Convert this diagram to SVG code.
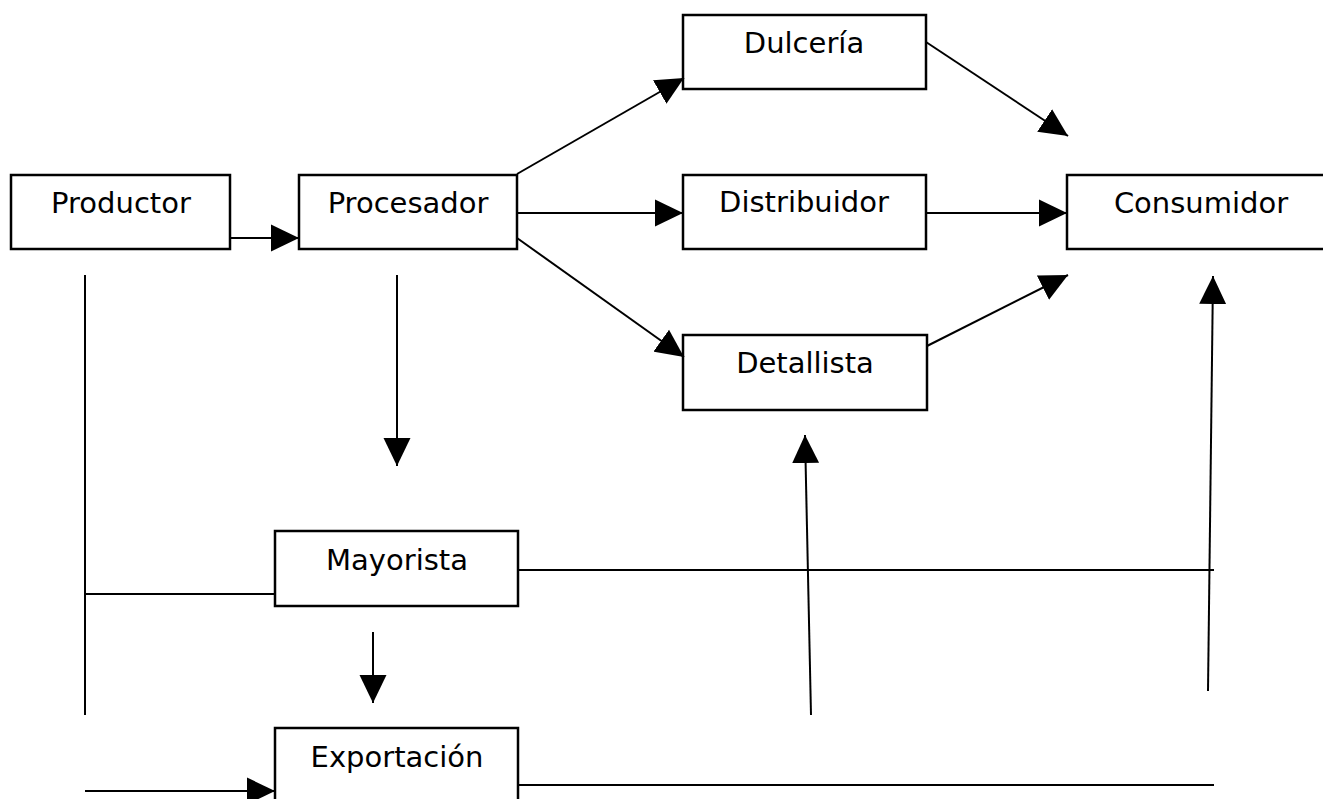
<svg xmlns="http://www.w3.org/2000/svg" width="1323" height="799" viewBox="0 0 1323 799">
<style>
.box{fill:#fff;stroke:#000;stroke-width:2.5}
.lbl{font-family:"DejaVu Sans",sans-serif;font-size:29px;fill:#000;text-anchor:middle}
.c{stroke:#000;stroke-width:2;fill:none}
.a{marker-end:url(#ah)}
</style>
<defs>
<marker id="ah" markerUnits="userSpaceOnUse" markerWidth="28" markerHeight="28" viewBox="0 0 27 26" refX="27" refY="13" orient="auto">
<path d="M0,0 L27,13 L0,26 z" fill="#000"/>
</marker>
</defs>
<rect width="1323" height="799" fill="#fff"/>
<g id="productor"><rect class="box" x="11" y="175" width="219" height="74"/><text class="lbl" x="121" y="213">Productor</text></g>
<g id="procesador"><rect class="box" x="299" y="175" width="218" height="74"/><text class="lbl" x="408" y="213">Procesador</text></g>
<g id="dulceria"><rect class="box" x="683" y="15" width="243" height="74"/><text class="lbl" x="804" y="53">Dulcería</text></g>
<g id="distribuidor"><rect class="box" x="683" y="175" width="243" height="74"/><text class="lbl" x="804" y="212">Distribuidor</text></g>
<g id="consumidor"><rect class="box" x="1067" y="175" width="270" height="74"/><text class="lbl" x="1201" y="213">Consumidor</text></g>
<g id="detallista"><rect class="box" x="683" y="335" width="244" height="75"/><text class="lbl" x="805" y="373">Detallista</text></g>
<g id="mayorista"><rect class="box" x="275" y="531" width="243" height="75"/><text class="lbl" x="397" y="570">Mayorista</text></g>
<g id="exportacion"><rect class="box" x="275" y="728" width="243" height="80"/><text class="lbl" x="397" y="767">Exportación</text></g>
<g id="connectors">
<line class="c a" x1="230" y1="238" x2="299" y2="238"/>
<line class="c a" x1="517" y1="174" x2="684" y2="78"/>
<line class="c a" x1="517" y1="213" x2="683" y2="213"/>
<line class="c a" x1="517" y1="238" x2="684" y2="357"/>
<line class="c a" x1="926" y1="42" x2="1068" y2="136"/>
<line class="c a" x1="926" y1="213" x2="1067" y2="213"/>
<line class="c a" x1="927" y1="346" x2="1068" y2="275"/>
<line class="c a" x1="397" y1="275" x2="397" y2="466"/>
<line class="c a" x1="373" y1="632" x2="373" y2="703"/>
<line class="c" x1="85" y1="275" x2="85" y2="715"/>
<line class="c" x1="85" y1="594" x2="276" y2="594"/>
<line class="c a" x1="85" y1="791" x2="275" y2="791"/>
<line class="c" x1="518" y1="570" x2="1214" y2="570"/>
<line class="c" x1="518" y1="785" x2="1214" y2="785"/>
<line class="c a" x1="811" y1="715" x2="805" y2="435"/>
<line class="c a" x1="1208" y1="691" x2="1213" y2="276"/>
</g>
</svg>
